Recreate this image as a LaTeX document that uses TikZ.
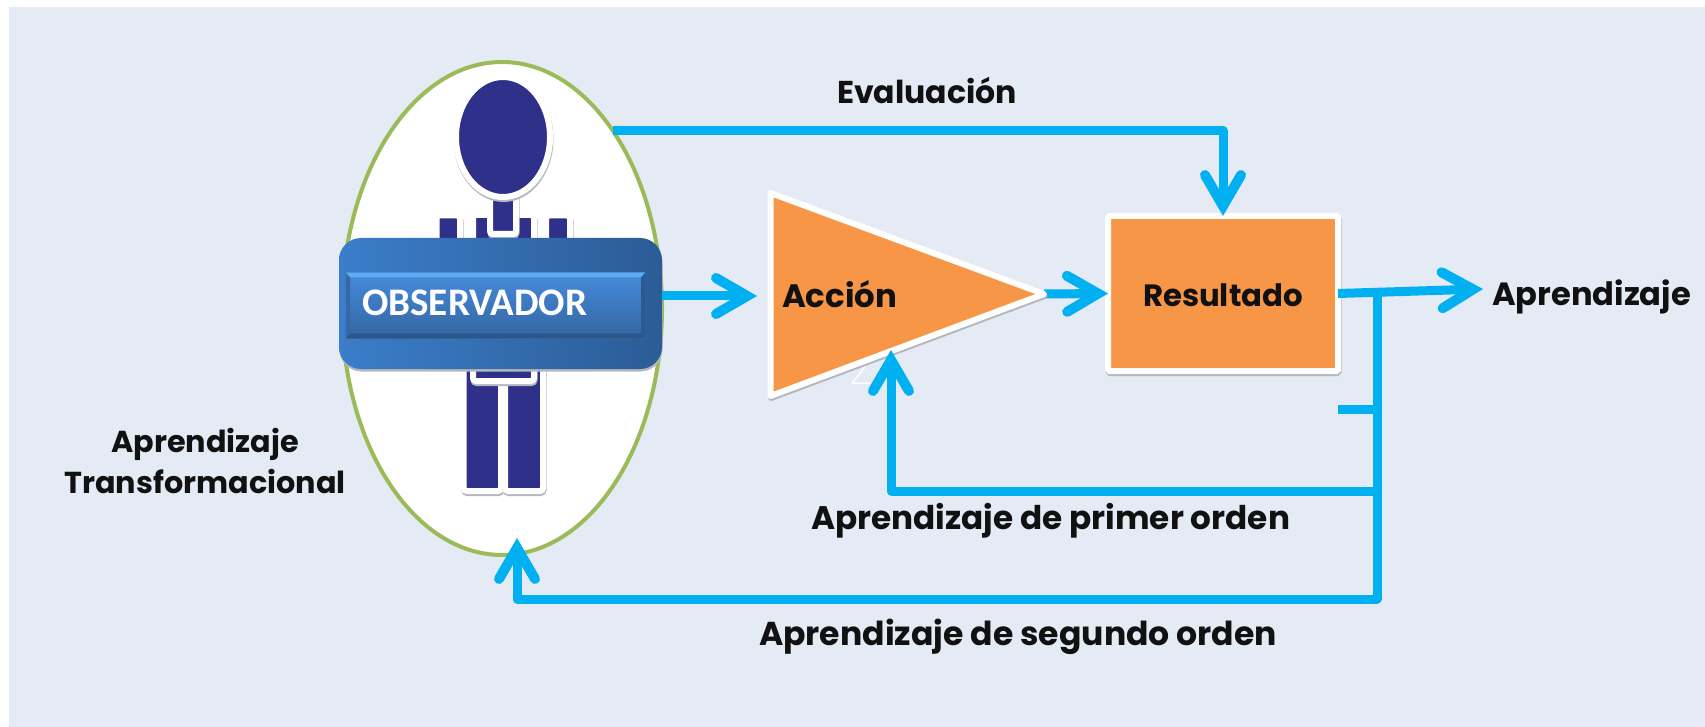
\documentclass[tikz,border=0pt]{standalone}
\usepackage{fontspec}
\usepackage{graphicx}
\setmainfont{Poppins}[BoldFont=* Bold]
\newfontfamily\obsfont{Carlito}
\usetikzlibrary{arrows.meta,shapes.geometric,shadows}
\definecolor{bgc}{HTML}{E4EBF4}
\definecolor{orangec}{HTML}{F79646}
\definecolor{navyc}{HTML}{2E3089}
\definecolor{greenc}{HTML}{9BBB59}
\definecolor{cyanc}{HTML}{00B0F0}
\definecolor{inkc}{HTML}{111111}
\definecolor{bandl}{HTML}{3B7DC9}
\definecolor{bandr}{HTML}{2B5C96}
\definecolor{pant}{HTML}{468ADC}
\definecolor{panb}{HTML}{3466A0}
\definecolor{bevt}{HTML}{60AAF0}
\definecolor{bevb}{HTML}{2C5688}
\definecolor{bevr}{HTML}{2A5A90}
\definecolor{bevl}{HTML}{3468A8}
\definecolor{shadowc}{HTML}{B4B8BE}
\newcommand{\fitw}[2]{\resizebox{#1pt}{!}{#2}}
\tikzset{
  softshadow/.style={drop shadow={shadow xshift=0.5pt,shadow yshift=-2pt,fill=shadowc,draw=shadowc,line width=6pt,opacity=1}},
  bandshadow/.style={drop shadow={shadow xshift=0.5pt,shadow yshift=-2.5pt,fill=shadowc,opacity=1}},
  limb/.style={fill=navyc,draw=white,line width=6pt,rounded corners=3pt,softshadow},
  conn/.style={draw=cyanc,line width=9pt,line join=round},
  barb/.style={conn,-{Straight Barb[length=31pt,width=36pt,line width=10pt,line cap=round]}},
  lab/.style={anchor=base west,inner sep=0pt,outer sep=0pt,text=inkc,font=\fontsize{32}{40}\selectfont\bfseries},
}
\begin{document}
\begin{tikzpicture}[x=1pt,y=-1pt]
\useasboundingbox (0,0) rectangle (1705,727);
\fill[white] (0,0) rectangle (1705,727);
\fill[bgc] (9,7) rectangle (1705,727);

% observer ellipse
\node[ellipse,draw=greenc,fill=white,line width=4pt,minimum width=320pt,minimum height=493pt,inner sep=0pt,outer sep=0pt] (obs) at (502,308.5) {};

% person
\path[limb] (436.5,215.5) rectangle (460,300);
\path[limb] (546,215.5) rectangle (570,300);
\path[limb] (463.7,350) rectangle (501,491);
\path[limb] (505,350) rectangle (543,491);
\path[limb] (473,215) rectangle (534,381);
\path[limb] (490,185) rectangle (516,234);
\node[ellipse,fill=navyc,draw=white,line width=6pt,minimum width=94pt,minimum height=120pt,inner sep=0pt,outer sep=0pt,softshadow] (head) at (503,137) {};

% coordinates of the triangle and the connector ends
\coordinate (triA) at (770.5,193);
\coordinate (triB) at (770.5,396);
\coordinate (triTip) at (1044,294);
\coordinate (triIn) at (757,296);
\coordinate (triUp) at (891,350);
\coordinate (jTop) at (1377,293);
\coordinate (jStub) at (1377,409);
\coordinate (stubEnd) at (1338,409);
\coordinate (jFirst) at (1377,491);
\coordinate (jLow) at (1377,599);
\coordinate (lowLeft) at (517,599);
\coordinate (obsUp) at (517,538);
\coordinate (outTip) at (1483,289);

% faint white mark under the triangle
\draw[white,line width=1.5pt,line join=round] (865,367) -- (852,383) -- (870,383);

% result box
\node[rectangle,fill=orangec,draw=white,line width=6pt,rounded corners=1.5pt,minimum width=230pt,minimum height=155pt,inner sep=0pt,outer sep=0pt,softshadow] (res) at (1223,293.5) {};

% connector from triangle to result, under the triangle's white edge
\draw[barb] (triTip) -- (res.west);

% triangle
\draw[fill=orangec,draw=white,line width=6pt,line join=round,drop shadow={shadow xshift=0.5pt,shadow yshift=-2pt,fill=shadowc,draw=shadowc,line width=6pt,line join=round,opacity=1}] (triA) -- (triB) -- (triTip) -- cycle;

% blue band
\node[rectangle,rounded corners=22pt,minimum width=323pt,minimum height=131pt,inner sep=0pt,outer sep=0pt,left color=bandl,right color=bandr,bandshadow] (band) at (500.5,303.5) {};
\node[rectangle,minimum width=299pt,minimum height=65pt,inner sep=0pt,outer sep=0pt,top color=pant,bottom color=panb] (panel) at (495.5,305.5) {};
\fill[bevt] (panel.north west) -- (panel.north east) -- ([xshift=-4pt,yshift=-4.5pt]panel.north east) -- ([xshift=4pt,yshift=-4.5pt]panel.north west) -- cycle;
\fill[bevb] (panel.south west) -- (panel.south east) -- ([xshift=-4pt,yshift=4.5pt]panel.south east) -- ([xshift=4pt,yshift=4.5pt]panel.south west) -- cycle;
\fill[bevr] (panel.north east) -- (panel.south east) -- ([xshift=-4pt,yshift=4.5pt]panel.south east) -- ([xshift=-4pt,yshift=-4.5pt]panel.north east) -- cycle;
\fill[bevl] (panel.north west) -- (panel.south west) -- ([xshift=4pt,yshift=4.5pt]panel.south west) -- ([xshift=4pt,yshift=-4.5pt]panel.north west) -- cycle;
\node[anchor=base west,inner sep=0pt,text=white,font=\obsfont\bfseries\fontsize{38}{44}\selectfont] (obsText) at (362,316) {\fitw{225}{OBSERVADOR}};

% connectors
\draw[barb] (obs.58) -| (res.north);
\draw[barb] (band.east |- triIn) -- (triIn);
\draw[barb] (res.east) -- (outTip);
\draw[conn] (jTop) -- (jStub);
\draw[conn] (stubEnd) -- (jStub);
\draw[barb] (jFirst) -| (triUp);
\draw[barb] (jStub) -- (jLow) -- (lowLeft) -- (obsUp);

% labels
\node[lab] (lblEval) at (837,104) {\fitw{180}{Evaluación}};
\node[lab] (lblAcc) at (782,307) {\fitw{115}{Acción}};
\node[lab] (lblRes) at (1143,307) {\fitw{160}{Resultado}};
\node[lab] (lblOut) at (1492,306) {\fitw{199}{Aprendizaje}};
\node[lab] (lblFirst) at (811,529) {\fitw{479}{Aprendizaje de primer orden}};
\node[lab] (lblSecond) at (759,645) {\fitw{518}{Aprendizaje de segundo orden}};
\node[lab,anchor=base] (lblTrans) at (205,452) {\fitw{281}{\begin{tabular}[t]{@{}c@{}}\fontsize{32}{42}\selectfont\bfseries Aprendizaje\\[4pt]\fontsize{32}{42}\selectfont\bfseries Transformacional\end{tabular}}};
\end{tikzpicture}
\end{document}
